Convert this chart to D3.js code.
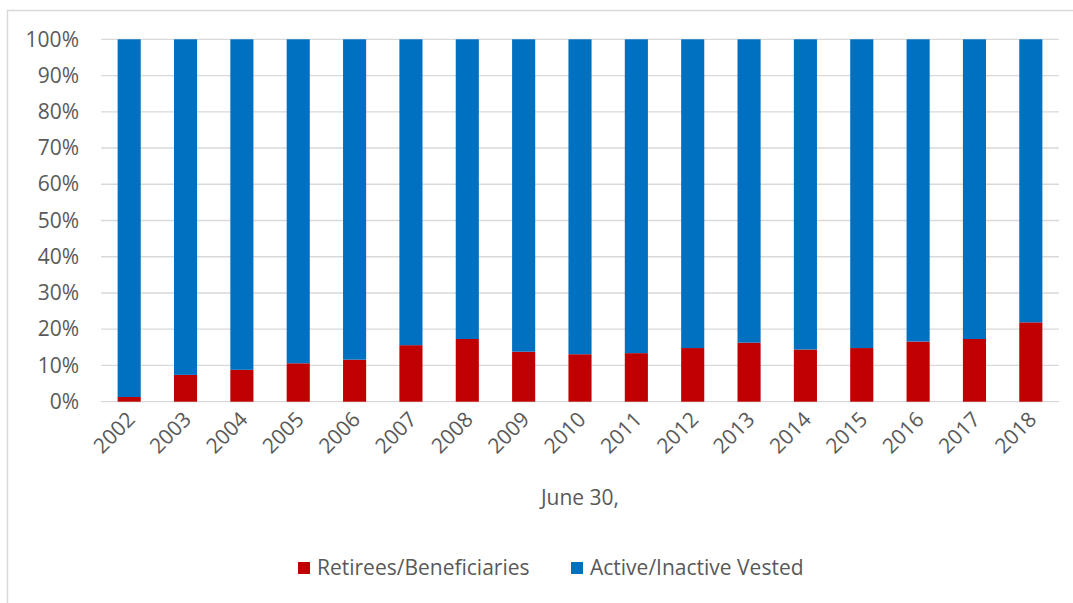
<!DOCTYPE html>
<html>
<head>
<meta charset="utf-8">
<script src="https://cdn.jsdelivr.net/npm/d3@7"></script>
<style>
  body { margin: 0; background: #fff; }
  svg { display: block; font-family: "Open Sans", sans-serif; }
  .tick text { fill: #595959; }
</style>
</head>
<body>
<div id="chart"></div>
<script>
// Data
const years = ["2002", "2003", "2004", "2005", "2006", "2007", "2008", "2009", "2010",
    "2011", "2012", "2013", "2014", "2015", "2016", "2017", "2018"];
const retirees = [1.3, 7.4, 8.8, 10.6, 11.6, 15.6, 17.3, 13.8, 13.1,
    13.4, 14.8, 16.3, 14.4, 14.8, 16.6, 17.3, 21.9];
const active = retirees.map(v => 100 - v);
const seriesNames = ["Retirees/Beneficiaries", "Active/Inactive Vested"];
const colors = ["#C00000", "#0070C0"];
const yTicks = [0, 10, 20, 30, 40, 50, 60, 70, 80, 90, 100];

// Layout
const w = 1073;
const h = 603;
const p = { left: 101, right: 1059, top: 39.3, bottom: 401.7 };
const fs = 21;

const rows = years.map((y, i) => ({ year: y, retirees: retirees[i], active: active[i] }));
const stack = d3.stack().keys(["retirees", "active"])(rows);

// Scales
const xScale = d3.scaleBand()
    .domain(years)
    .range([p.left, p.right])
    .paddingInner(0.59)
    .paddingOuter(0.295);
const yScale = d3.scaleLinear()
    .domain([0, 100])
    .range([p.bottom, p.top]);

const svg = d3.select("#chart")
    .append("svg")
    .attr("width", w)
    .attr("height", h);

// Outer frame (left and top edges visible)
svg.append("path")
    .attr("d", `M7.5,${h} V10.5 H${w}`)
    .attr("fill", "none")
    .attr("stroke", "#D9D9D9")
    .attr("stroke-width", 1.5);

// Gridlines
svg.append("g")
    .selectAll("line")
    .data(yTicks)
    .enter()
    .append("line")
    .attr("x1", p.left)
    .attr("x2", p.right)
    .attr("y1", d => yScale(d))
    .attr("y2", d => yScale(d))
    .attr("stroke", "#D9D9D9")
    .attr("stroke-width", 1.3);

// Y axis labels
const yAxis = d3.axisLeft(yScale)
    .tickValues(yTicks)
    .tickSize(0)
    .tickPadding(22)
    .tickFormat(d => d + "%");
svg.append("g")
    .attr("transform", `translate(${p.left},0)`)
    .call(yAxis)
    .call(g => g.select(".domain").remove())
    .selectAll("text")
    .attr("font-size", fs)
    .attr("font-family", "Open Sans, sans-serif");

// Stacked bars
svg.append("g")
    .selectAll("g")
    .data(stack)
    .enter()
    .append("g")
    .attr("fill", (d, i) => colors[i])
    .selectAll("rect")
    .data(d => d)
    .enter()
    .append("rect")
    .attr("x", d => xScale(d.data.year))
    .attr("width", xScale.bandwidth())
    .attr("y", d => yScale(d[1]))
    .attr("height", d => yScale(d[0]) - yScale(d[1]));

// X axis labels, rotated
const xAxis = d3.axisBottom(xScale).tickSize(0).tickPadding(0);
svg.append("g")
    .attr("transform", `translate(0,${p.bottom})`)
    .call(xAxis)
    .call(g => g.select(".domain").remove())
    .selectAll("text")
    .attr("font-size", fs)
    .attr("font-family", "Open Sans, sans-serif")
    .attr("text-anchor", "end")
    .attr("dy", null)
    .attr("transform", "translate(7,19) rotate(-45)");

// Axis title
svg.append("text")
    .attr("x", (p.left + p.right) / 2)
    .attr("y", 505)
    .attr("text-anchor", "middle")
    .attr("font-size", fs)
    .attr("fill", "#595959")
    .text("June 30,");

// Legend
const legendX = [298, 571];
const legend = svg.append("g");
legend.selectAll("rect")
    .data(seriesNames)
    .enter()
    .append("rect")
    .attr("x", (d, i) => legendX[i])
    .attr("y", 562)
    .attr("width", 12)
    .attr("height", 12)
    .attr("fill", (d, i) => colors[i]);
legend.selectAll("text")
    .data(seriesNames)
    .enter()
    .append("text")
    .attr("x", (d, i) => legendX[i] + 19)
    .attr("y", 575)
    .attr("font-size", fs)
    .attr("fill", "#595959")
    .text(d => d);
</script>
</body>
</html>
